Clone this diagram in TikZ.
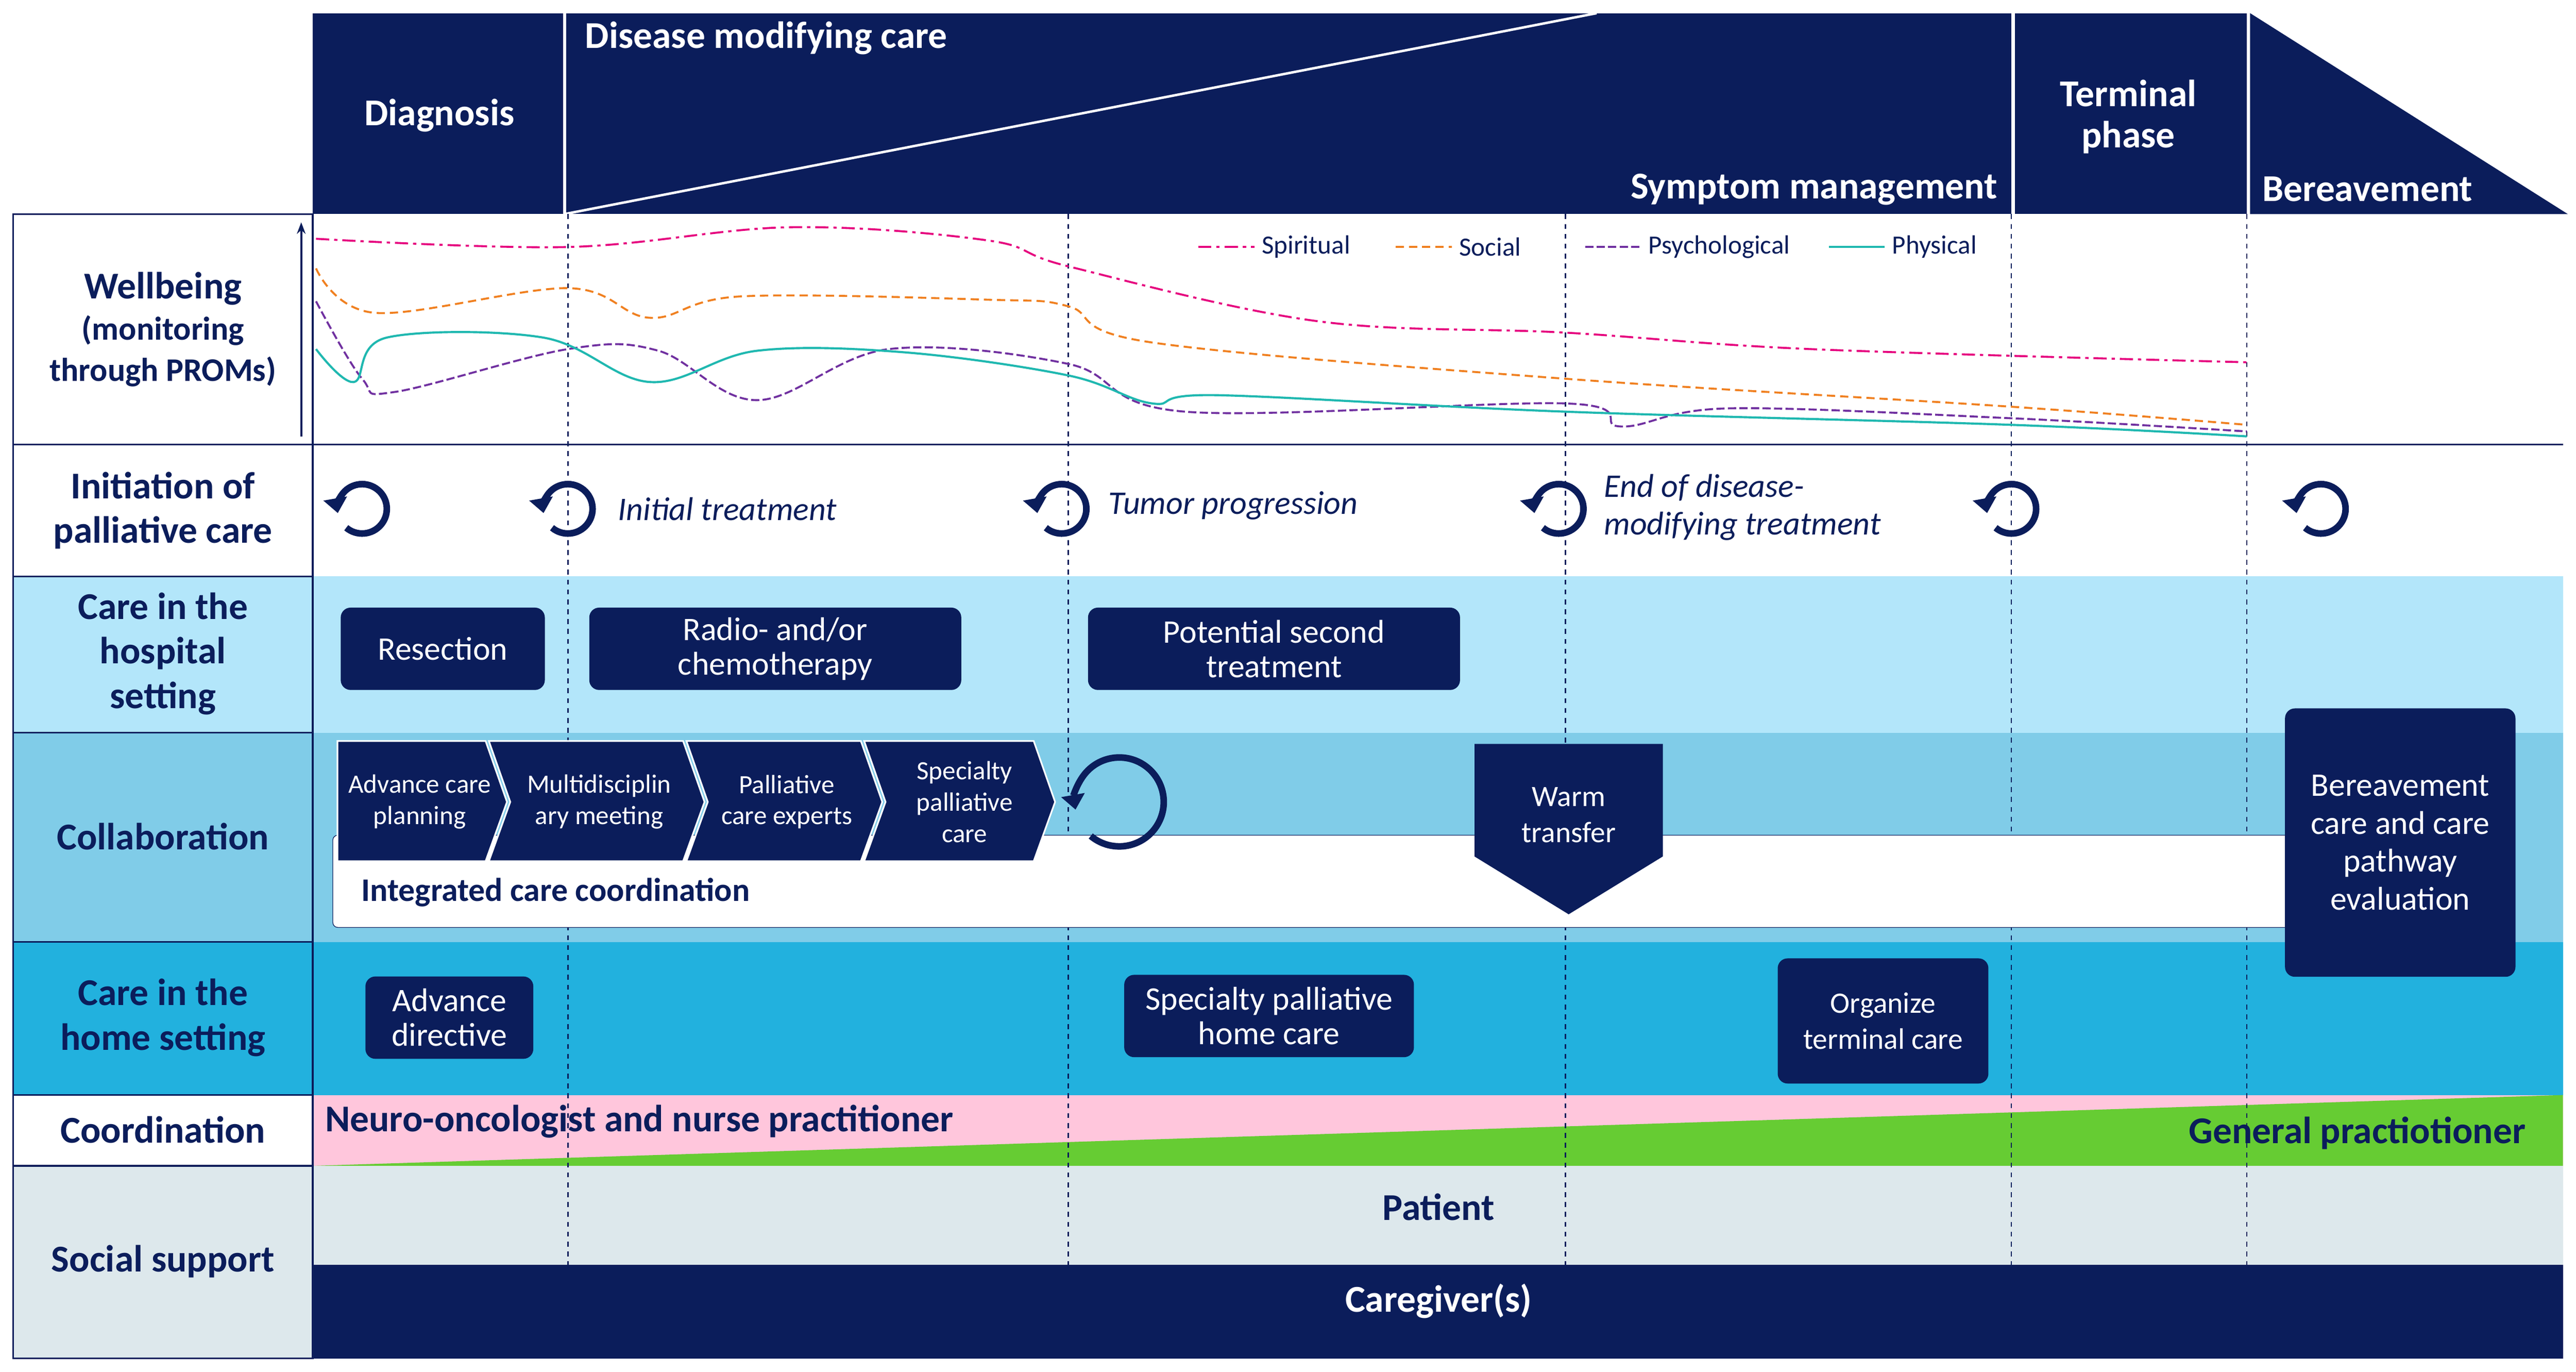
\documentclass[tikz,border=0pt]{standalone}
\usepackage{fontspec}
\setmainfont{Carlito}
\usetikzlibrary{arrows.meta,shapes.geometric}
\definecolor{navy}{HTML}{0B1D5B}
\definecolor{hosp}{HTML}{B3E6FA}
\definecolor{coll}{HTML}{80CCE8}
\definecolor{home}{HTML}{22B1DE}
\definecolor{pinkc}{HTML}{FFC6DC}
\definecolor{greenc}{HTML}{66CC33}
\definecolor{soc}{HTML}{DDE8EC}
\definecolor{spir}{HTML}{E6007E}
\definecolor{socl}{HTML}{F08020}
\definecolor{psy}{HTML}{7030A0}
\definecolor{phy}{HTML}{1FB8B0}
\tikzset{
 lab/.style={font=\fontsize{23}{27}\selectfont\bfseries,text=navy,align=center},
 hdr/.style={font=\fontsize{23}{27}\selectfont\bfseries,text=white,align=center},
 box/.style={fill=navy,rounded corners=6pt,text=white,align=center,font=\fontsize{20}{23}\selectfont},
 ital/.style={font=\fontsize{20}{24}\selectfont\itshape,text=navy,align=left,anchor=west},
 vdash/.style={navy,dashed,line width=0.8pt},
 cyc/.style={navy,line width=4pt,-{Triangle[length=9pt,width=14pt]}},
 chev/.style={fill=navy,draw=white,line width=1pt},
 chevt/.style={text=white,font=\fontsize{16}{19}\selectfont,align=center}
}
\newcommand{\cyclo}[2]{\draw[cyc] (#1) ++(130:#2) arc[start angle=130,end angle=-190,radius=#2];}
\begin{document}
\begin{tikzpicture}[x=1pt,y=-1pt]
\useasboundingbox (0,0) rectangle (1565,833);
\fill[white] (0,0) rectangle (1565,833);
% header
\fill[navy] (190,8) rectangle (1222,130);
\fill[navy] (1224,8) rectangle (1365,130);
\fill[navy] (1367,8) -- (1560,130) -- (1367,130) -- cycle;
\draw[white,line width=2pt] (343,8) -- (343,130);
\draw[white,line width=1.5pt] (343,130) -- (970,8);
\node[hdr] (diag) at (267,70) {Diagnosis};
\node[hdr,anchor=west] (dmc) at (352,23) {Disease modifying care};
\node[hdr,anchor=east] (sym) at (1217,115) {Symptom management};
\node[hdr] (term) at (1293,71) {Terminal\\[-2pt]phase};
\node[hdr,anchor=west] (ber) at (1371,115) {Bereavement};
% rows
\fill[hosp] (8,350) rectangle (1557,445);
\fill[coll] (8,445) rectangle (1557,572);
\fill[home] (8,572) rectangle (1557,665);
\fill[pinkc] (190,665) rectangle (1557,708);
\fill[greenc] (190,708) -- (1557,665) -- (1557,708) -- cycle;
\fill[soc] (8,708) rectangle (1557,768);
\fill[soc] (8,768) rectangle (190,825);
\fill[navy] (190,768) rectangle (1557,825);
\draw[navy,line width=1pt] (8,130) rectangle (190,825);
\foreach \y in {270,350,445,572,665,708} \draw[navy,line width=1pt] (8,\y) -- (190,\y);
\draw[navy,line width=1pt] (190,270) -- (1557,270);
\node[lab] (l1) at (99,200) {Wellbeing\\[-2pt]{\fontsize{20}{23}\selectfont(monitoring}\\[-2pt]{\fontsize{20}{23}\selectfont through PROMs)}};
\node[lab] (l2) at (99,310) {Initiation of\\palliative care};
\node[lab] (l3) at (99,397) {Care in the\\hospital\\setting};
\node[lab] (l4) at (99,508) {Collaboration};
\node[lab] (l5) at (99,618) {Care in the\\home setting};
\node[lab] (l6) at (99,686) {Coordination};
\node[lab] (l7) at (99,766) {Social support};
% dashed lines
\foreach \x in {345,649,951,1222,1365} \draw[vdash] (\x,130) -- (\x,825);
% axis
\coordinate (a0) at (183,265); \coordinate (a1) at (183,135);
\draw[navy,line width=1.2pt,-{Stealth[length=7pt]}] (a0) -- (a1);
% curves
\draw[spir,line width=1.2pt,dash pattern=on 8pt off 3pt on 2pt off 3pt] plot[smooth,tension=0.6] coordinates {(192,145)(345,150)(480,138)(600,146)(650,162)(800,195)(951,202)(1100,212)(1365,220)};
\draw[socl,line width=1.2pt,dash pattern=on 5pt off 3pt] plot[smooth,tension=0.6] coordinates {(192,163)(228,190)(345,175)(395,193)(450,180)(600,182)(649,186)(700,208)(951,230)(1222,247)(1365,258)};
\draw[psy,line width=1.2pt,dash pattern=on 5pt off 2pt] plot[smooth,tension=0.6] coordinates {(192,183)(220,230)(240,238)(345,212)(400,213)(460,243)(540,212)(649,221)(720,250)(951,245)(985,259)(1050,248)(1222,254)(1365,262)};
\draw[phy,line width=1.3pt] plot[smooth,tension=0.6] coordinates {(192,212)(215,232)(235,205)(330,205)(395,232)(460,213)(550,214)(649,228)(700,245)(740,240)(951,250)(1222,258)(1365,265)};
% legend
\draw[spir,line width=1.2pt,dash pattern=on 8pt off 3pt on 2pt off 3pt] (728,150) -- (762,150);
\node[anchor=west,font=\fontsize{16}{18}\selectfont,text=navy] (g1) at (763,150) {Spiritual};
\draw[socl,line width=1.2pt,dash pattern=on 5pt off 3pt] (848,150) -- (882,150);
\node[anchor=west,font=\fontsize{16}{18}\selectfont,text=navy] (g2) at (883,150) {Social};
\draw[psy,line width=1.2pt,dash pattern=on 5pt off 2pt] (963,150) -- (997,150);
\node[anchor=west,font=\fontsize{16}{18}\selectfont,text=navy] (g3) at (998,150) {Psychological};
\draw[phy,line width=1.3pt] (1111,150) -- (1145,150);
\node[anchor=west,font=\fontsize{16}{18}\selectfont,text=navy] (g4) at (1146,150) {Physical};
% initiation icons
\foreach \x in {220,345,645,947,1222,1410} {\coordinate (c) at (\x,309); \cyclo{c}{15}}
\node[ital] (t1) at (372,309) {Initial treatment};
\node[ital] (t2) at (670,307) {Tumor progression};
\node[ital] (t3) at (971,308) {End of disease-\\[-1pt]modifying treatment};
% hospital
\node[box,minimum width=124,minimum height=50] (res) at (269,394) {Resection};
\node[box,minimum width=226,minimum height=50] (rad) at (471,394) {Radio- and/or\\[-2pt]chemotherapy};
\node[box,minimum width=226,minimum height=50] (pot) at (774,394) {Potential second\\[-2pt]treatment};
% collaboration
\node[draw=navy,fill=white,rounded corners=3pt,minimum width=1190,minimum height=56,anchor=north west] (icc) at (202,507) {};
\node[anchor=west,font=\fontsize{20}{23}\selectfont\bfseries,text=navy] (icct) at (216,542) {Integrated care coordination};
\path[fill=navy,draw=navy] (896,452) -- (1010,452) -- (1010,520) -- (953,555) -- (896,520) -- cycle;
\node[text=white,font=\fontsize{18}{22}\selectfont,align=center] (warm) at (953,495) {Warm\\transfer};
\fill[chev] (205,450) -- (295,450) -- (308,487) -- (295,523) -- (205,523) -- cycle;
\fill[chev] (297,450) -- (415,450) -- (428,487) -- (415,523) -- (297,523) -- (310,487) -- cycle;
\fill[chev] (417,450) -- (523,450) -- (536,487) -- (523,523) -- (417,523) -- (430,487) -- cycle;
\fill[chev] (525,450) -- (628,450) -- (641,487) -- (628,523) -- (525,523) -- (538,487) -- cycle;
\node[chevt] (ch1) at (255,487) {Advance care\\planning};
\node[chevt] (ch2) at (364,487) {Multidisciplin\\ary meeting};
\node[chevt] (ch3) at (478,487) {Palliative\\care experts};
\node[chevt] (ch4) at (586,487) {Specialty\\palliative\\care};
\coordinate (bc) at (680,487);
\cyclo{bc}{27}
\node[box,minimum width=140,minimum height=163,anchor=north west] (bere) at (1388,430) {Bereavement\\care and care\\pathway\\evaluation};
% home
\node[box,minimum width=102,minimum height=50] (adv) at (273,618) {Advance\\[-2pt]directive};
\node[box,minimum width=176,minimum height=50] (sph) at (771,617) {Specialty palliative\\[-2pt]home care};
\node[box,minimum width=128,minimum height=76,font=\fontsize{18}{22}\selectfont] (org) at (1144,620) {Organize\\terminal care};
% coordination
\node[anchor=west,font=\fontsize{23}{27}\selectfont\bfseries,text=navy] (neu) at (194,681) {Neuro-oncologist and nurse practitioner};
\node[anchor=east,font=\fontsize{23}{27}\selectfont\bfseries,text=navy] (gp) at (1538,688) {General practiotioner};
\node[lab] (pat) at (874,733) {Patient};
\node[hdr] (care) at (874,790) {Caregiver(s)};
\end{tikzpicture}
\end{document}
